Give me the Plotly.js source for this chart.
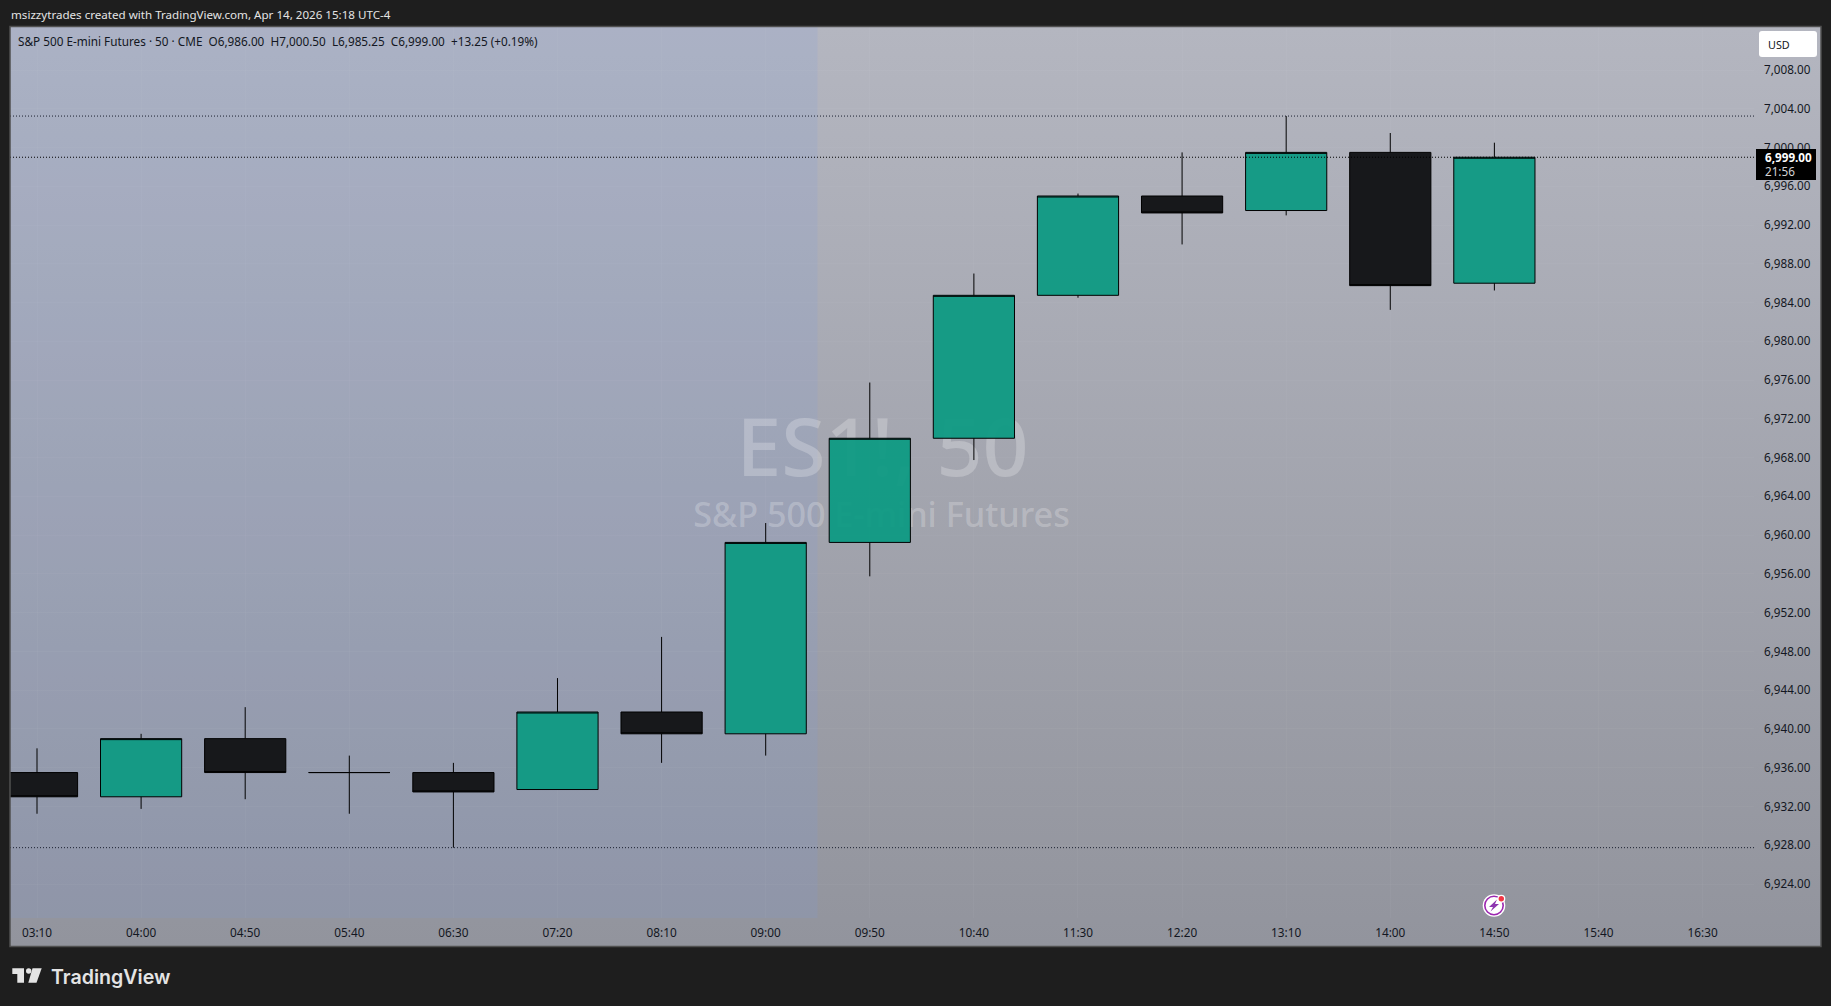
<!DOCTYPE html>
<html>
<head>
<meta charset="utf-8">
<script src="https://cdn.plot.ly/plotly-3.0.1.min.js"></script>
<style>
html,body{margin:0;padding:0;width:1831px;height:1006px;overflow:hidden;background:#1e1e1e}
#bg{position:absolute;left:10px;top:27px;width:1811px;height:919px;background:linear-gradient(180deg,#b4b6c0 0%,#92949d 100%)}
#chart{position:absolute;left:0;top:0;width:1831px;height:1006px}
</style>
</head>
<body>
<div id="bg"></div>
<div id="chart"></div>
<script>
var times  = ['03:10','04:00','04:50','05:40','06:30','07:20','08:10','09:00','09:50','10:40','11:30','12:20','13:10','14:00','14:50'];
var opens  = [6935.5,6933,6939,6935.5,6935.5,6933.75,6941.75,6939.5,6959.25,6970,6984.75,6995,6993.5,6999.5,6986];
var highs  = [6938,6939.5,6942.25,6937.25,6936.5,6945.25,6949.5,6961.25,6975.75,6987,6995.25,6999.5,7003.25,7001.5,7000.5];
var lows   = [6931.25,6931.75,6932.75,6931.25,6927.75,6933.75,6936.5,6937.25,6955.75,6967.75,6984.5,6990,6993,6983.25,6985.25];
var closes = [6933,6939,6935.5,6935.5,6933.5,6941.75,6939.5,6959.25,6970,6984.75,6995,6993.25,6999.5,6985.75,6999];
var timeTicks  = ['03:10','04:00','04:50','05:40','06:30','07:20','08:10','09:00','09:50','10:40','11:30','12:20','13:10','14:00','14:50','15:40','16:30'];
var priceTicks = [6924,6928,6932,6936,6940,6944,6948,6952,6956,6960,6964,6968,6972,6976,6980,6984,6988,6992,6996,7000,7004,7008];
var priceLabels = ['6,924.00','6,928.00','6,932.00','6,936.00','6,940.00','6,944.00','6,948.00','6,952.00','6,956.00','6,960.00','6,964.00','6,968.00','6,972.00','6,976.00','6,980.00','6,984.00','6,988.00','6,992.00','6,996.00','7,000.00','7,004.00','7,008.00'];
var levelBelow = [7003.25,6927.75];
var levelLast  = [6999];

var FONT='"Noto Sans", sans-serif', INK='#131722';
var L=10,T=27,W=1744,H=891;
function px(x){return (x-L)/W;}
function py(y){return 1-(y-T)/H;}
function P(pts){return pts.map(function(p,i){return (i?'L':'M')+px(p[0])+','+py(p[1]);}).join(' ')+' Z';}
function rect(x0,y0,x1,y1,fill,line,lw,layer){return {type:'rect',xref:'paper',yref:'paper',x0:px(x0),y0:py(y0),x1:px(x1),y1:py(y1),fillcolor:fill,line:{color:line||'rgba(0,0,0,0)',width:lw||0},layer:layer||'above'};}
function circ(cx,cy,r,fill,line,lw){return {type:'circle',xref:'paper',yref:'paper',x0:px(cx-r),y0:py(cy-r),x1:px(cx+r),y1:py(cy+r),fillcolor:fill,line:{color:line||'rgba(0,0,0,0)',width:lw||0},layer:'above'};}
function poly(pts,fill){return {type:'path',xref:'paper',yref:'paper',path:P(pts),fillcolor:fill,line:{width:0},layer:'above'};}
function txt(x,y,s,size,color,opt){opt=opt||{};return {xref:'paper',yref:'paper',x:px(x),y:py(y),text:s,showarrow:false,xanchor:opt.a||'left',yanchor:'middle',borderpad:0,
  font:{family:opt.f||FONT,size:size,color:color,weight:opt.w||400}};}
function mark(x0,y0,x1,y1,s,size){var r=rect(x0,y0,x1,y1,'rgba(0,0,0,0)',null,0,'below');
  r.label={text:s,textposition:'middle center',font:{family:FONT,size:size,weight:500,color:'rgba(255,255,255,0.24)'}};return r;}

var trace={type:'candlestick',x:times,open:opens,high:highs,low:lows,close:closes,whiskerwidth:0,
  increasing:{line:{color:'#000000',width:1},fillcolor:'rgba(14,154,131,0.95)'},
  decreasing:{line:{color:'#000000',width:1},fillcolor:'#17181b'},hoverinfo:'skip',showlegend:false};

var shapes=[
  rect(L,T,817.5,918,'rgba(125,155,225,0.16)',null,0,'below'),
  mark(600,414,1165,486,'ES1!, 50',80.5),
  mark(600,496,1163,536,'S&P 500 E-mini Futures',34.2)
];
levelBelow.forEach(function(v){shapes.push({type:'line',xref:'paper',yref:'y',x0:0,x1:1,y0:v,y1:v,line:{color:'#1b2030',width:1,dash:'1px,2px'},layer:'below'});});
levelLast.forEach(function(v){shapes.push({type:'line',xref:'paper',yref:'y',x0:0,x1:1,y0:v,y1:v,line:{color:'#000000',width:1,dash:'1px,2px'},layer:'above'});});
shapes=shapes.concat([
  rect(10,26.5,1821,946.5,'rgba(0,0,0,0)','#505050',1.5),
  {type:'path',xref:'paper',yref:'paper',fillcolor:'#ffffff',line:{width:0},layer:'above',
   path:'M'+px(1762)+','+py(31)+' L'+px(1814)+','+py(31)+' Q'+px(1817)+','+py(31)+' '+px(1817)+','+py(34)+' L'+px(1817)+','+py(54)+' Q'+px(1817)+','+py(57)+' '+px(1814)+','+py(57)+' L'+px(1762)+','+py(57)+' Q'+px(1759)+','+py(57)+' '+px(1759)+','+py(54)+' L'+px(1759)+','+py(34)+' Q'+px(1759)+','+py(31)+' '+px(1762)+','+py(31)+' Z'},
  rect(1756,149,1816,180,'#000000'),
  circ(1494,905.5,11.3,'#ffffff'),
  circ(1494,905.5,9.2,'#ffffff','#9c27b0',1.6),
  poly([[1497,899.5],[1489,907],[1493,907],[1490.5,911.5],[1499,904],[1495,904]],'#8e35b0'),
  circ(1501.3,898.8,4,'#ffffff'),
  circ(1501.3,898.8,2.7,'#f23645'),
  poly([[12.3,968.3],[24,968.3],[24,982.7],[17.3,982.7],[17.3,974],[12.3,974]],'#e4e4e4'),
  circ(28.7,971,2.7,'#e4e4e4'),
  poly([[32.5,968.3],[41.7,968.3],[36.5,982.7],[28.3,982.7]],'#e4e4e4')
]);

var annotations=[
  txt(10,14.5,'msizzytrades created with TradingView.com, Apr 14, 2026 15:18 UTC-4',11.6,'#e4e4e4'),
  txt(17,41.5,'S&P 500 E-mini Futures · 50 · CME\u00a0\u00a0O6,986.00\u00a0\u00a0H7,000.50\u00a0\u00a0L6,985.25\u00a0\u00a0C6,999.00\u00a0\u00a0+13.25 (+0.19%)',11.75,INK),
  txt(1767,44.5,'USD',10.8,INK),
  txt(1764,156.5,'6,999.00',11.7,'#ffffff',{w:700}),
  txt(1764,170.5,'21:56',11.7,'#d4d4d4'),
  txt(49.5,976.5,'TradingView',19.6,'#e4e4e4',{f:'Inter, sans-serif',w:600})
];

var layout={width:1831,height:1006,margin:{l:L,r:1831-L-W,t:T,b:1006-T-H,pad:0},
  paper_bgcolor:'rgba(0,0,0,0)',plot_bgcolor:'rgba(0,0,0,0)',showlegend:false,hovermode:false,
  boxgap:0.22,boxgroupgap:0,boxmode:'overlay',dragmode:false,
  xaxis:{type:'category',categoryorder:'array',categoryarray:timeTicks,range:[-0.2594,16.494],rangeslider:{visible:false},
    tickmode:'array',tickvals:timeTicks,ticktext:timeTicks,ticklen:0,ticklabelstandoff:6,tickangle:0,
    tickfont:{family:FONT,size:11.8,color:INK},showgrid:true,gridcolor:'rgba(255,255,255,0.03)',gridwidth:1,showline:false,zeroline:false},
  yaxis:{side:'right',range:[6920.491,7012.44],tickmode:'array',tickvals:priceTicks,ticktext:priceLabels,ticklen:0,ticklabelstandoff:9,
    tickfont:{family:FONT,size:11.7,color:INK},showgrid:true,gridcolor:'rgba(255,255,255,0.03)',gridwidth:1,showline:false,zeroline:false},
  shapes:shapes,annotations:annotations};

Plotly.newPlot('chart',[trace],layout,{staticPlot:true,displayModeBar:false});
</script>
</body>
</html>
